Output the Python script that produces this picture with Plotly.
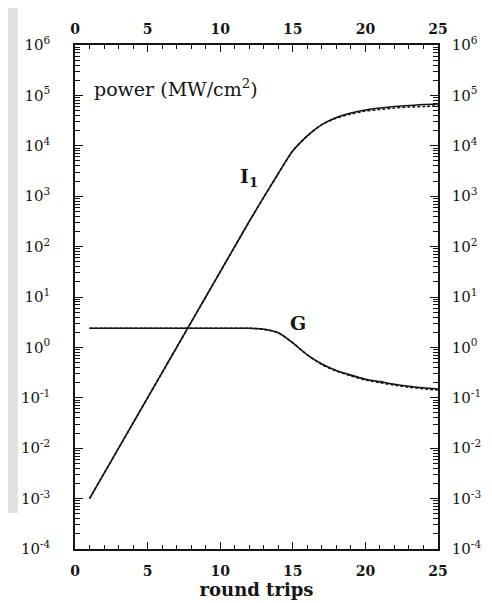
import plotly.graph_objects as go

# ---- data ----
round_trips = list(range(1, 26))

# intensity I1 (MW/cm^2), solid
I1 = [1.0e-3, 3.16e-3, 1.0e-2, 3.16e-2, 1.0e-1, 3.16e-1, 1.0, 3.16, 10.0, 31.6,
      100.0, 316.0, 955.0, 2820.0, 7940.0, 15800.0, 26300.0, 36300.0, 44700.0,
      51300.0, 56200.0, 60300.0, 63100.0, 66100.0, 67600.0]
# intensity I1, dashed
I1_dash = [1.0e-3, 3.16e-3, 1.0e-2, 3.16e-2, 1.0e-1, 3.16e-1, 1.0, 3.16, 10.0, 31.6,
           100.0, 316.0, 955.0, 2820.0, 7940.0, 15800.0, 26300.0, 35500.0, 42700.0,
           49000.0, 52500.0, 56200.0, 58900.0, 60300.0, 61700.0]
# gain G, solid
G = [2.40, 2.40, 2.40, 2.40, 2.40, 2.40, 2.40, 2.40, 2.40, 2.40, 2.40, 2.40,
     2.29, 1.95, 1.23, 0.708, 0.468, 0.347, 0.282, 0.234, 0.209, 0.186, 0.170,
     0.158, 0.150]
# gain G, dashed
G_dash = [2.40, 2.40, 2.40, 2.40, 2.40, 2.40, 2.40, 2.40, 2.40, 2.40, 2.40, 2.40,
          2.29, 1.95, 1.23, 0.708, 0.457, 0.339, 0.272, 0.226, 0.200, 0.178, 0.162,
          0.151, 0.143]

x_ticks = [0, 5, 10, 15, 20, 25]
x_ticktext = ["<b>%d</b>" % v for v in x_ticks]
x_minor = list(range(0, 26))
y_exps = list(range(-4, 7))
y_ticks = [10.0 ** e for e in y_exps]
y_ticktext = ["10<sup>%d</sup>" % e for e in y_exps]
y_minor = [k * 10.0 ** e for e in range(-4, 6) for k in range(2, 10)]

FONT = "DejaVu Serif"
INK = "#151515"
CLEAR = "rgba(0,0,0,0)"

fig = go.Figure()
solid = dict(color=INK, width=1.6, shape="spline", smoothing=0.6)
dashed = dict(color=INK, width=1.6, dash="3px,2px", shape="spline", smoothing=0.6)
fig.add_trace(go.Scatter(x=round_trips, y=I1, mode="lines", line=solid,
                         showlegend=False, hoverinfo="skip"))
fig.add_trace(go.Scatter(x=round_trips, y=I1_dash, mode="lines", line=dashed,
                         xaxis="x2", yaxis="y2", showlegend=False, hoverinfo="skip"))
fig.add_trace(go.Scatter(x=round_trips, y=G, mode="lines", line=solid,
                         xaxis="x3", yaxis="y3", showlegend=False, hoverinfo="skip"))
fig.add_trace(go.Scatter(x=round_trips, y=G_dash, mode="lines", line=dashed,
                         xaxis="x4", yaxis="y4", showlegend=False, hoverinfo="skip"))

xbase = dict(range=[0, 25], showgrid=False, zeroline=False, automargin=False, tickmode="array")
ybase = dict(type="log", range=[-4, 6], showgrid=False, zeroline=False, automargin=False,
             tickmode="array")

# label axes: visible frame line, invisible outside ticks only to space the labels
xlab_b = dict(**xbase, side="bottom", anchor="y", showline=True, linecolor=INK, linewidth=1.5,
              ticks="outside", ticklen=8, tickcolor=CLEAR, tickvals=x_ticks, ticktext=x_ticktext,
              tickfont=dict(family=FONT, size=14, color=INK),
              title=dict(text="<b>round trips</b>", standoff=3,
                         font=dict(family=FONT, size=18, color=INK)))
xlab_t = dict(**xbase, side="top", anchor="y", overlaying="x", showline=True, linecolor=INK,
              linewidth=1.5, ticks="outside", ticklen=4, tickcolor=CLEAR, tickvals=x_ticks,
              ticktext=x_ticktext, tickfont=dict(family=FONT, size=14, color=INK))
ylab_l = dict(**ybase, side="left", anchor="x", showline=True, linecolor=INK, linewidth=1.5,
              ticks="outside", ticklen=20, tickcolor=CLEAR, tickvals=y_ticks, ticktext=y_ticktext,
              tickfont=dict(family=FONT, size=15, color=INK))
ylab_r = dict(**ybase, side="right", anchor="x", overlaying="y", showline=True, linecolor=INK,
              linewidth=1.5, ticks="outside", ticklen=9, tickcolor=CLEAR, tickvals=y_ticks,
              ticktext=y_ticktext, tickfont=dict(family=FONT, size=15, color=INK))
# tick axes: inside ticks mirrored onto the opposite frame side, no labels
xmaj = dict(**xbase, side="bottom", anchor="y", overlaying="x", showline=False,
            showticklabels=False, ticks="inside", ticklen=7, tickwidth=1.4, tickcolor=INK,
            mirror="ticks", tickvals=x_ticks)
xmin = dict(**xbase, side="bottom", anchor="y", overlaying="x", showline=False,
            showticklabels=False, ticks="inside", ticklen=4, tickwidth=1.2, tickcolor=INK,
            mirror="ticks", tickvals=x_minor)
ymaj = dict(**ybase, side="left", anchor="x", overlaying="y", showline=False,
            showticklabels=False, ticks="inside", ticklen=8, tickwidth=1.4, tickcolor=INK,
            mirror="ticks", tickvals=y_ticks)
ymin = dict(**ybase, side="left", anchor="x", overlaying="y", showline=False,
            showticklabels=False, ticks="inside", ticklen=5, tickwidth=1.0, tickcolor=INK,
            mirror="ticks", tickvals=y_minor)

fig.update_layout(
    width=484, height=595,
    margin=dict(l=67, r=54, t=37, b=54, autoexpand=False),
    paper_bgcolor="white", plot_bgcolor="white",
    xaxis=xlab_b, xaxis2=xlab_t, xaxis3=xmaj, xaxis4=xmin,
    yaxis=ylab_l, yaxis2=ylab_r, yaxis3=ymaj, yaxis4=ymin,
    shapes=[
        dict(type="rect", xref="paper", yref="paper", x0=-0.19, x1=-0.157,
             y0=0.0714, y1=1.08, fillcolor="#e2e2e2", line=dict(width=0), layer="below"),
    ],
    annotations=[
        dict(x=1.17, y=5.147, xref="x", yref="y", text="power (MW/cm<sup>2</sup>)",
             showarrow=False, xanchor="left", yanchor="middle",
             font=dict(family=FONT, size=19, color=INK)),
        dict(x=11.2, y=3.37, xref="x", yref="y", text="<b>I<sub>1</sub></b>",
             showarrow=False, xanchor="left", yanchor="middle",
             font=dict(family=FONT, size=19, color=INK)),
        dict(x=15.39, y=0.484, xref="x", yref="y", text="<b>G</b>",
             showarrow=False, xanchor="center", yanchor="middle",
             font=dict(family=FONT, size=19, color=INK)),
    ],
)

fig.write_html("out.html")
